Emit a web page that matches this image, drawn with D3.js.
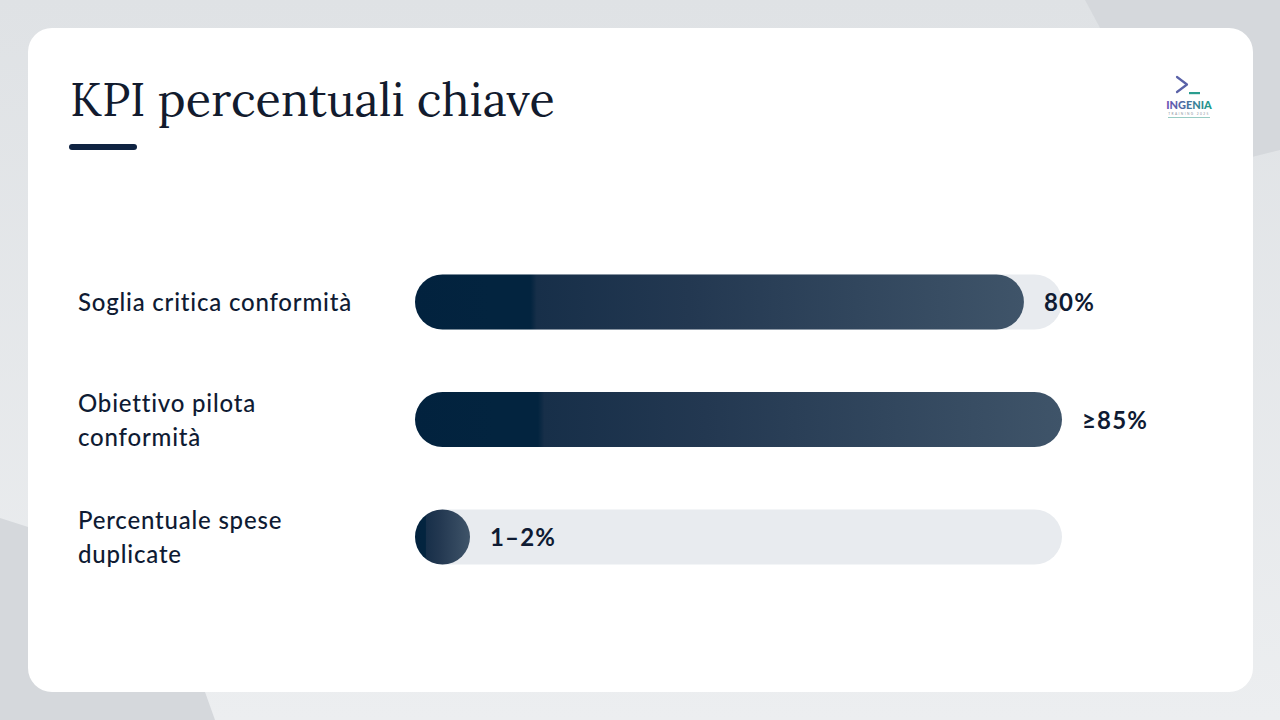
<!DOCTYPE html>
<html>
<head>
<meta charset="utf-8">
<script src="https://cdn.jsdelivr.net/npm/d3@7"></script>
<style>
html,body{margin:0;padding:0;background:#e0e3e6;}
svg{display:block;}
</style>
</head>
<body>
<svg id="chart" width="1280" height="720"></svg>
<script>
// ---- data ----
const title = "KPI percentuali chiave";
const categories = ["Soglia critica conformità", "Obiettivo pilota conformità", "Percentuale spese duplicate"];
const values = [80, 85, 1.5];
const valueLabels = ["80%", "≥85%", "1–2%"];
const scaleMax = 85;

const W = 1280, H = 720;
const svg = d3.select("#chart");
const defs = svg.append("defs");

// background
const bgGrad = defs.append("linearGradient").attr("id","bg").attr("x1",0).attr("y1",0).attr("x2",0).attr("y2",1);
bgGrad.append("stop").attr("offset",0).attr("stop-color","#dfe2e5");
bgGrad.append("stop").attr("offset",1).attr("stop-color","#eceef0");
svg.append("rect").attr("width",W).attr("height",H).attr("fill","url(#bg)");
svg.append("polygon").attr("points","1085,0 1280,0 1280,150 1179,175").attr("fill","#d5d8dc");
svg.append("polygon").attr("points","0,518 100,550 205,692 215,720 0,720").attr("fill","#d5d8dc");

// card
svg.append("rect").attr("x",28).attr("y",28).attr("width",1225).attr("height",664).attr("rx",24).attr("fill","#ffffff");

// title
const t = svg.append("text").attr("x",70).attr("y",116)
  .attr("font-family","Lora, 'Liberation Serif', 'DejaVu Serif', serif")
  .attr("font-size",48).attr("fill","#121b2e").text(title);
const tw = t.node().getComputedTextLength();
t.attr("font-size", 48 * 485 / tw);
svg.append("rect").attr("x",69).attr("y",144).attr("width",68).attr("height",6).attr("rx",3).attr("fill","#0f2342");

// logo
const lg = svg.append("g");
lg.append("path").attr("d","M1177,77 L1187,84.5 L1177,92").attr("fill","none").attr("stroke","#5a62a8").attr("stroke-width",2.2).attr("stroke-linecap","round").attr("stroke-linejoin","round");
lg.append("rect").attr("x",1189).attr("y",92).attr("width",11).attr("height",2.2).attr("fill","#2a9d8f");
const lgGrad = defs.append("linearGradient").attr("id","logo").attr("x1",0).attr("x2",1);
lgGrad.append("stop").attr("offset",0).attr("stop-color","#6b4fb5");
lgGrad.append("stop").attr("offset",1).attr("stop-color","#1e9c86");
lg.append("text").attr("x",1189).attr("y",109).attr("text-anchor","middle")
  .attr("font-family","Lato, 'DejaVu Sans', sans-serif").attr("font-weight",900).attr("font-size",11)
  .attr("fill","url(#logo)").text("INGENIA");
lg.append("text").attr("x",1189).attr("y",115).attr("text-anchor","middle")
  .attr("font-family","Lato, sans-serif").attr("font-size",3.2).attr("letter-spacing",1.4)
  .attr("fill","#8a8f9a").text("TRAINING 2025");
lg.append("rect").attr("x",1168).attr("y",117).attr("width",42).attr("height",0.8).attr("fill","#7fbfb5");

// bars
const trackX = 415, trackW = 647, barH = 55;
const rowCenters = [302, 420, 537];
const x = d3.scaleLinear().domain([0, scaleMax]).range([0, trackW]);
const y = d3.scalePoint().domain(categories).range([rowCenters[0], rowCenters[2]]);

const fillGrad = defs.append("linearGradient").attr("id","fill").attr("x1",0).attr("x2",1).attr("y1",0).attr("y2",0);
[[0,"#02223e"],[0.12,"#03243f"],[0.19,"#03243f"],[0.20,"#172f49"],[0.45,"#233851"],[1,"#3f5469"]].forEach(s=>
  fillGrad.append("stop").attr("offset",s[0]).attr("stop-color",s[1]));

const labelFont = "Lato, 'Noto Sans', sans-serif";
const rows = svg.selectAll("g.row").data(categories.map((c,i)=>({c, v:values[i], lab:valueLabels[i]})))
  .enter().append("g").attr("class","row");

rows.append("rect").attr("x",trackX).attr("y",d=>y(d.c)-barH/2).attr("width",trackW).attr("height",barH)
  .attr("rx",barH/2).attr("fill","#e8ebef");
rows.append("rect").attr("x",trackX).attr("y",d=>y(d.c)-barH/2).attr("width",d=>Math.max(x(d.v),barH)).attr("height",barH)
  .attr("rx",barH/2).attr("fill","url(#fill)");
rows.append("text").attr("x",d=>trackX+Math.max(x(d.v),barH)+20).attr("y",d=>y(d.c)+9)
  .attr("font-family",labelFont).attr("font-weight",700).attr("font-size",24).attr("letter-spacing",1.2)
  .attr("fill","#0f1b33").text(d=>d.lab);

// category labels with wrapping
rows.each(function(d){
  const g = d3.select(this);
  const style = s => s.attr("font-family",labelFont).attr("font-weight",500).attr("font-size",24).attr("letter-spacing",0.8);
  const txt = style(g.append("text").attr("x",78)).attr("fill","#0f1b33");
  const words = d.c.split(" ");
  const lines = [];
  let line = [];
  const probe = style(g.append("text"));
  words.forEach(w=>{
    const test = line.concat([w]).join(" ");
    probe.text(test);
    if (probe.node().getComputedTextLength() > 292 && line.length) { lines.push(line.join(" ")); line=[w]; }
    else line.push(w);
  });
  lines.push(line.join(" "));
  probe.remove();
  const lh = 34;
  const startY = y(d.c) + 9 - (lines.length-1)*lh/2;
  lines.forEach((l,i)=> txt.append("tspan").attr("x",78).attr("y",startY+i*lh).text(l));
});
</script>
</body>
</html>
